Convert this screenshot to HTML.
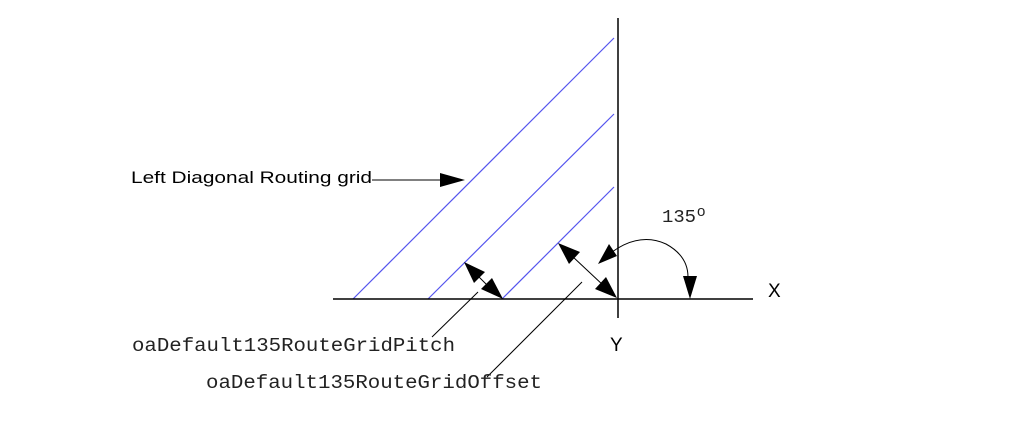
<!DOCTYPE html>
<html><head><style>body{margin:0;background:#fff}svg{display:block}</style></head>
<body>
<svg width="1013" height="446" xmlns="http://www.w3.org/2000/svg">
<rect width="1013" height="446" fill="#fff"/>
<g stroke="#5555ee" stroke-width="1.2">
<line x1="353" y1="299" x2="614" y2="38"/>
<line x1="428" y1="299" x2="614" y2="114"/>
<line x1="502" y1="299" x2="614" y2="187"/>
</g>
<g stroke="#000" stroke-width="1.5">
<line x1="618" y1="18" x2="618" y2="318"/>
<line x1="333" y1="299" x2="753" y2="299"/>
</g>
<g stroke="#000" stroke-width="1">
<line x1="372" y1="180" x2="442" y2="180"/>
<line x1="478" y1="276" x2="490" y2="288"/>
<line x1="572" y1="256" x2="604" y2="286"/>
<line x1="478" y1="292" x2="432" y2="337"/>
<line x1="582" y1="282" x2="487" y2="377"/>
<path d="M612 252 Q640 232 666 244 Q688 256 688 277" fill="none"/>
</g>
<g fill="#000">
<polygon points="465,180 440,173 440,187"/>
<polygon points="464,262 485,272 474,283"/>
<polygon points="503,299 481,289 492,278"/>
<polygon points="558,243 580,252 569,264"/>
<polygon points="617,298 595,289 606,277"/>
<polygon points="598,264 609,244 617,256"/>
<polygon points="690,299 683,276 697,276"/>
</g>
<g font-family="Liberation Sans, sans-serif" fill="#000">
<text x="131" y="183" font-size="17" textLength="241" lengthAdjust="spacingAndGlyphs">Left Diagonal Routing grid</text>
<text x="768" y="297" font-size="19">X</text>
<text x="610" y="351" font-size="19">Y</text>
</g>
<g font-family="Liberation Mono, monospace" fill="#222">
<text x="132" y="351" font-size="19" textLength="323" lengthAdjust="spacingAndGlyphs">oaDefault135RouteGridPitch</text>
<text x="206" y="388" font-size="19" textLength="336" lengthAdjust="spacingAndGlyphs">oaDefault135RouteGridOffset</text>
<text x="662" y="222" font-size="18" textLength="34" lengthAdjust="spacingAndGlyphs">135</text>
<text x="697" y="216" font-size="15" font-family="Liberation Sans, sans-serif">o</text>
</g>
</svg>
</body></html>
